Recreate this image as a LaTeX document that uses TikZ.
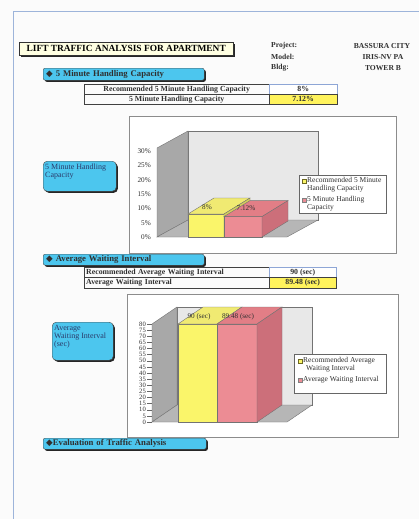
\documentclass[tikz,border=0pt]{standalone}
\usepackage{fontspec}
\setmainfont{Liberation Serif}
\newfontfamily\symfont{DejaVu Sans}
\usetikzlibrary{shadows}
\definecolor{pagebg}{HTML}{FBFBFB}
\definecolor{hdrblue}{HTML}{4CC6EE}
\definecolor{titlefill}{HTML}{FFFFE2}
\definecolor{baryellow}{HTML}{FAF56A}
\definecolor{baryellowtop}{HTML}{F0EA72}
\definecolor{barred}{HTML}{EC8C94}
\definecolor{barredtop}{HTML}{E27E86}
\definecolor{barredside}{HTML}{CC6F7A}
\definecolor{wallside}{HTML}{A8A8A8}
\definecolor{wallback}{HTML}{E8E8E8}
\definecolor{wallfloor}{HTML}{B6B6B6}
\definecolor{cellblue}{HTML}{8EA6D6}
\definecolor{cellyellow}{HTML}{FFF35C}
\definecolor{inkgray}{HTML}{303030}
\definecolor{sideink}{HTML}{2B3B6B}
\definecolor{pageline}{HTML}{9DB4DA}
\tikzset{
	shadowed/.style={drop shadow={shadow xshift=1.6pt, shadow yshift=-1.6pt, fill=black!85, opacity=1}},
	titlebox/.style={draw=black!80, fill=titlefill, shadowed, anchor=north west, minimum width=214pt, minimum height=13pt, inner sep=0pt, font=\fontsize{9.4}{10}\selectfont\bfseries},
	secbox/.style={draw=black!70, fill=hdrblue, rounded corners=2pt, shadowed, anchor=north west, inner ysep=0pt, inner xsep=3pt, align=left, font=\fontsize{8.7}{9}\selectfont\bfseries, text=inkgray},
	sidebox/.style={draw=black!70, fill=hdrblue, rounded corners=4pt, shadowed, anchor=north west, inner sep=0pt},
	sidetext/.style={anchor=north west, align=left, inner sep=1pt, font=\fontsize{8}{8.2}\selectfont, text=sideink},
	info/.style={anchor=west, inner sep=0pt, font=\fontsize{7.6}{8}\selectfont\bfseries, text=inkgray},
	infoval/.style={inner sep=0pt, font=\fontsize{7.6}{8}\selectfont\bfseries, text=inkgray},
	cell/.style={draw=black!75, anchor=north west, inner ysep=0pt, minimum height=10pt, font=\fontsize{7.8}{8}\selectfont\bfseries, text=inkgray},
	frame/.style={draw=black!45, line width=0.8pt, fill=white},
	axislbl/.style={anchor=east, inner sep=0pt, text=inkgray},
	barlbl/.style={inner sep=0pt, font=\fontsize{7.2}{8}\selectfont, text=inkgray},
	legbox/.style={draw=black!60, fill=white, line width=0.6pt},
	legsq/.style={minimum size=4pt, inner sep=0pt, line width=0.6pt},
	legtext/.style={anchor=north west, align=left, inner sep=0pt, font=\fontsize{7.5}{8}\selectfont, text=inkgray},
	edge3d/.style={draw=black!55, line width=0.4pt},
}

\begin{document}
\begin{tikzpicture}[x=1pt, y=-1pt]
	\fill[pagebg] (0,0) rectangle (419,519);
	\useasboundingbox (0,0) rectangle (419,519);
	\draw[pageline, line width=1pt] (13,519) -- (13,12) -- (419,12);

	% heading
	\node[titlebox] (title) at (19,42) {LIFT TRAFFIC ANALYSIS FOR APARTMENT};
	\node[info] (project) at (271,46) {Project:};
	\node[info] (model) at (271,57) {Model:};
	\node[info] (bldg) at (271,68) {Bldg:};
	\node[infoval] (projectval) at (382,46) {BASSURA CITY};
	\node[infoval] (modelval) at (383,57) {IRIS-NV PA};
	\node[infoval] (bldgval) at (383,68) {TOWER B};

	% 5 minute handling capacity
	\node[secbox, text width=155pt, minimum height=12pt] (capHead) at (43,68) {{\symfont ◆} 5 Minute Handling Capacity};
	\node[cell, minimum width=185pt] (capRecLbl) at (84,84) {Recommended 5 Minute Handling Capacity};
	\node[cell, minimum width=68pt, draw=cellblue, fill=white] (capRecVal) at (269,84) {8\%};
	\node[cell, minimum width=185pt] (capLbl) at (84,94) {5 Minute Handling Capacity};
	\node[cell, minimum width=68pt, fill=cellyellow] (capVal) at (269,94) {7.12\%};

	\draw[frame] (129,116) rectangle (396,253);
	\fill[wallback, edge3d] (188,131) rectangle (318,220);
	\fill[wallside, edge3d] (157,237) -- (157,148) -- (188,131) -- (188,220) -- cycle;
	\fill[wallfloor, edge3d] (157,237) -- (287,237) -- (318,220) -- (188,220) -- cycle;
	\foreach \v [count=\i from 0] in {0,5,...,30}
		\node[axislbl, font=\fontsize{7.2}{8}\selectfont] (capTick\i) at (151,{237-\i*14.33}) {\v\%};
	\fill[baryellow, edge3d] (188,214) rectangle (224,237);
	\fill[baryellowtop, edge3d] (188,214) -- (224,214) -- (250,198) -- (214,198) -- cycle;
	\fill[baryellow!85!black, edge3d] (224,214) -- (250,198) -- (250,221) -- (224,237) -- cycle;
	\fill[barred, edge3d] (224,216.6) rectangle (262,237);
	\fill[barredtop, edge3d] (224,216.6) -- (262,216.6) -- (288,200.6) -- (250,200.6) -- cycle;
	\fill[barredside, edge3d] (262,216.6) -- (288,200.6) -- (288,221) -- (262,237) -- cycle;
	\node[barlbl] (capRecBar) at (207,207) {8\%};
	\node[barlbl] (capBar) at (246,208) {7.12\%};
	\draw[legbox] (299,175) rectangle (386,213);
	\node[legsq, draw=olive!70!black, fill=baryellow] (capKeyA) at (304,181) {};
	\node[legtext] (capKeyAtxt) at (307,177) {Recommended 5 Minute\\Handling Capacity};
	\node[legsq, draw=black!50, fill=barred] (capKeyB) at (304,200) {};
	\node[legtext] (capKeyBtxt) at (307,196) {5 Minute Handling\\Capacity};

	\node[sidebox, minimum width=73pt, minimum height=30pt] (capSide) at (43,161) {};
	\node[sidetext] (capSideTxt) at ([xshift=1pt, yshift=-1.5pt]capSide.north west) {5 Minute Handling\\Capacity};

	% average waiting interval
	\node[secbox, text width=155pt, minimum height=11pt] (awiHead) at (43,254) {{\symfont ◆} Average Waiting Interval};
	\node[cell, text width=181pt, inner xsep=2pt, align=left] (awiRecLbl) at (84,267) {Recommended Average Waiting Interval};
	\node[cell, minimum width=67pt, draw=cellblue, fill=white] (awiRecVal) at (269,267) {90 (sec)};
	\node[cell, text width=181pt, inner xsep=2pt, align=left, minimum height=11pt] (awiLbl) at (84,277) {Average Waiting Interval};
	\node[cell, minimum width=67pt, minimum height=11pt, fill=cellyellow] (awiVal) at (269,277) {89.48 (sec)};

	\draw[frame] (127,294) rectangle (398,437);
	\fill[wallback, edge3d] (177,307) rectangle (312,405);
	\fill[wallside, edge3d] (152,422) -- (152,324) -- (177,307) -- (177,405) -- cycle;
	\fill[wallfloor, edge3d] (152,422) -- (287,422) -- (312,405) -- (177,405) -- cycle;
	\foreach \v [count=\i from 0] in {0,5,...,80}{
		\node[axislbl, font=\fontsize{6.6}{6.6}\selectfont] (awiTick\i) at (146,{422-\i*6.125}) {\v};
		\draw[black!60, line width=0.4pt] (147,{422-\i*6.125}) -- (152,{422-\i*6.125});
	}
	\fill[baryellow, edge3d] (178,324) rectangle (217,422);
	\fill[baryellowtop, edge3d] (178,324) -- (217,324) -- (242,307) -- (203,307) -- cycle;
	\fill[barred, edge3d] (217,324) rectangle (257,422);
	\fill[barredtop, edge3d] (217,324) -- (257,324) -- (282,307) -- (242,307) -- cycle;
	\fill[barredside, edge3d] (257,324) -- (282,307) -- (282,405) -- (257,422) -- cycle;
	\node[barlbl] (awiRecBar) at (199,317) {90 (sec)};
	\node[barlbl] (awiBar) at (238,317) {89.48 (sec)};
	\draw[legbox] (294,354) rectangle (386,393);
	\node[legsq, draw=olive!70!black, fill=baryellow] (awiKeyA) at (300,361) {};
	\node[legtext] (awiKeyAtxt) at (303,357) {Recommended Average\\\hspace*{3pt}Waiting Interval};
	\node[legsq, draw=black!50, fill=barred] (awiKeyB) at (300,380) {};
	\node[legtext] (awiKeyBtxt) at (303,376) {Average Waiting Interval};

	\node[sidebox, minimum width=61pt, minimum height=38pt] (awiSide) at (52,322) {};
	\node[sidetext] (awiSideTxt) at ([xshift=1pt, yshift=-2pt]awiSide.north west) {Average\\Waiting Interval\\(sec)};

	% evaluation
	\node[secbox, text width=157pt, minimum height=11pt] (evalHead) at (43,438) {{\symfont ◆}Evaluation of Traffic Analysis};
\end{tikzpicture}
\end{document}
